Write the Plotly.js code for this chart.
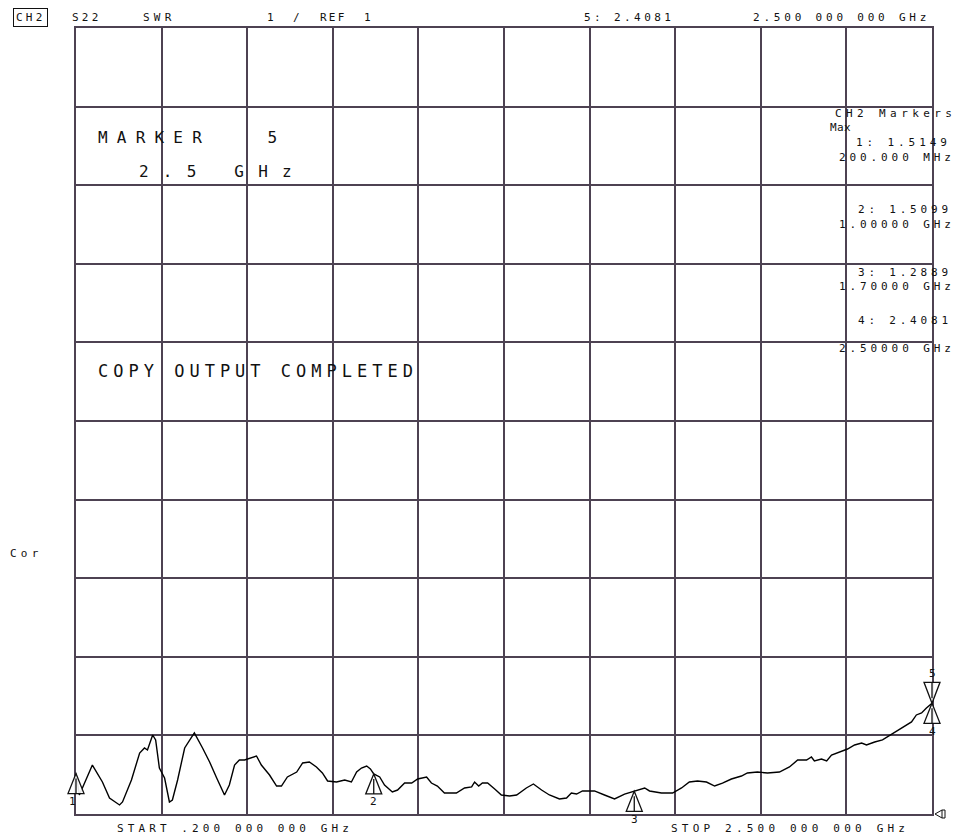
<!DOCTYPE html>
<html>
<head>
<meta charset="utf-8">
<script src="https://cdn.plot.ly/plotly-3.0.1.min.js"></script>
<style>
  html, body { margin: 0; padding: 0; background: #ffffff; }
  #chart { width: 960px; height: 837px; }
</style>
</head>
<body>
<div id="chart"></div>
<script>
// ---- Data (S22 SWR trace, frequency in GHz) ----
const freqGHz = [0.200,0.209,0.244,0.263,0.271,0.290,0.317,0.325,0.349,0.371,
  0.384,0.392,0.406,0.414,0.419,0.424,0.438,0.451,0.459,0.473,
  0.492,0.500,0.518,0.540,0.559,0.578,0.599,0.612,0.626,0.639,
  0.653,0.685,0.698,0.720,0.739,0.752,0.768,0.793,0.809,0.827,
  0.846,0.862,0.876,0.900,0.922,0.940,0.954,0.967,0.981,0.991,
  1.000,1.016,1.029,1.050,1.064,1.083,1.102,1.118,1.142,1.155,
  1.171,1.190,1.222,1.244,1.263,1.271,1.282,1.292,1.306,1.325,
  1.343,1.365,1.384,1.410,1.429,1.451,1.472,1.499,1.518,1.531,
  1.545,1.561,1.593,1.620,1.647,1.674,1.700,1.728,1.741,1.773,
  1.803,1.827,1.848,1.870,1.894,1.916,1.937,1.961,1.988,2.004,
  2.031,2.058,2.090,2.117,2.139,2.163,2.176,2.184,2.203,2.217,
  2.230,2.252,2.273,2.292,2.311,2.324,2.346,2.367,2.380,2.399,
  2.421,2.445,2.458,2.472,2.485,2.500];
const swr = [1.515,1.242,1.623,1.458,1.407,1.204,1.115,1.153,1.433,1.776,
  1.840,1.814,2.005,1.942,1.776,1.585,1.458,1.153,1.178,1.433,
  1.840,1.903,2.031,1.840,1.662,1.458,1.242,1.369,1.623,1.687,
  1.687,1.738,1.623,1.496,1.356,1.356,1.471,1.534,1.649,1.662,
  1.598,1.522,1.420,1.407,1.433,1.407,1.534,1.585,1.611,1.573,
  1.510,1.471,1.369,1.280,1.305,1.394,1.394,1.445,1.471,1.394,
  1.356,1.267,1.267,1.331,1.344,1.407,1.356,1.394,1.394,1.318,
  1.242,1.229,1.242,1.331,1.382,1.305,1.242,1.191,1.204,1.267,
  1.254,1.293,1.293,1.242,1.191,1.254,1.289,1.331,1.293,1.267,
  1.267,1.331,1.407,1.420,1.407,1.356,1.394,1.445,1.483,1.522,
  1.534,1.522,1.534,1.598,1.687,1.687,1.725,1.674,1.700,1.674,
  1.751,1.789,1.827,1.878,1.903,1.878,1.916,1.942,1.980,2.031,
  2.094,2.171,2.260,2.285,2.349,2.408];

// ---- Markers ----
const markerFreq = [0.2, 1.0, 1.7, 2.5, 2.5];
const markerSWR = [1.5149, 1.5099, 1.2889, 2.4081, 2.4081];
const markerLabels = ['1', '2', '3', '4', '5'];
const markerPointsDown = [false, false, false, false, true];

// ---- Axis settings (SWR 1/div, REF 1, 0.2 - 2.5 GHz) ----
const freqStart = 0.2, freqStop = 2.5;
const refValue = 1, scalePerDiv = 1, numDivs = 10;

// ---- Texts ----
const headerTexts = ['CH2', 'S22', 'SWR', '1', '/', 'REF  1', '5: 2.4081', '2.500 000 000 GHz'];
const panelTexts = ['CH2 Markers', 'Max', '1: 1.5149', '200.000 MHz', '2: 1.5099', '1.00000 GHz',
                    '3: 1.2889', '1.70000 GHz', '4: 2.4081', '2.50000 GHz'];
const screenTexts = ['MARKER   5', '2.5 GHz', 'COPY OUTPUT COMPLETED'];
const sideText = 'Cor';
const startText = 'START .200 000 000 GHz';
const stopText = 'STOP 2.500 000 000 GHz';

// ---- Layout helpers ----
const W = 960, H = 837;
const ML = 76, MR = 28, MT = 28, MB = 23;
const PW = W - ML - MR, PH = H - MT - MB;
const FONT = 'DejaVu Sans Mono, Liberation Mono, monospace';
const INK = '#111111';
const GRID = '#4d4252';

function nb(s) { return s.replace(/ /g, '\u00A0'); }
function txt(s, xPx, yPx, size, ls, extra) {
  const a = {
    xref: 'paper', yref: 'paper',
    x: (xPx - ML) / PW, y: (H - MB - yPx) / PH,
    xanchor: 'left', yanchor: 'middle',
    showarrow: false,
    text: '<span style="letter-spacing:' + ls + 'px">' + nb(s) + '</span>',
    font: { family: FONT, size: size, color: INK },
    borderpad: 0
  };
  return Object.assign(a, extra || {});
}

const annotations = [];
// header
const hdrPos = [[13, 3.2], [71, 3.2], [142, 4.2], [266, 0], [292, 0], [319, 2.2], [583, 3.4], [752, 3.8]];
headerTexts.forEach((t, i) => {
  const extra = i === 0 ? { bordercolor: INK, borderwidth: 1, borderpad: 2 } : {};
  annotations.push(txt(t, hdrPos[i][0], 17.5, 11, hdrPos[i][1], extra));
});
// right marker panel
const panelPos = [[834, 113, 4.4], [829, 127, 0.4], [855, 142, 3.9], [838, 157, 3.9],
                  [857, 209, 3.8], [838, 224, 3.9], [857, 272, 3.8], [838, 286, 3.9],
                  [857, 320, 3.8], [838, 348, 3.9]];
panelTexts.forEach((t, i) => annotations.push(txt(t, panelPos[i][0], panelPos[i][1], 11, panelPos[i][2])));
// on-screen messages
annotations.push(txt(screenTexts[0], 97, 137, 16, 9.2));
annotations.push(txt(screenTexts[1], 138, 171, 16, 14.2));
annotations.push(txt(screenTexts[2], 97, 371, 17, 5.0));
annotations.push(txt(sideText, 9, 553, 11, 4.2));
annotations.push(txt(startText, 116, 828, 11, 4.1));
annotations.push(txt(stopText, 670, 828, 11, 4.2));

// marker number labels
markerLabels.forEach((lab, i) => {
  annotations.push({
    xref: 'x', yref: 'y', x: markerFreq[i], y: markerSWR[i],
    showarrow: false, text: lab,
    yshift: markerPointsDown[i] ? 30 : -28,
    xshift: i === 0 ? -4 : 0,
    font: { family: FONT, size: 11, color: INK }
  });
});

// convert data values to paper fractions via the axis ranges (so shapes are not clipped)
function fx(f) { return (f - freqStart) / (freqStop - freqStart); }
function fy(v) { return (v - refValue) / (scalePerDiv * numDivs); }

// marker triangles & reference indicator as pixel-sized shapes
const shapes = [];
markerFreq.forEach((f, i) => {
  const path = markerPointsDown[i]
    ? 'M0,0 L-8,21 L8,21 Z M0,5 L0,21'
    : 'M0,0 L-8,-20 L8,-20 Z M0,-5 L0,-20';
  shapes.push({
    type: 'path', xref: 'paper', yref: 'paper',
    xsizemode: 'pixel', ysizemode: 'pixel',
    xanchor: fx(f), yanchor: fy(markerSWR[i]),
    path: path,
    line: { color: INK, width: 1.3 },
    fillcolor: 'rgba(255,255,255,0.9)'
  });
});
shapes.push({
  type: 'path', xref: 'paper', yref: 'paper',
  xsizemode: 'pixel', ysizemode: 'pixel',
  xanchor: fx(freqStop), yanchor: fy(refValue),
  path: 'M3,0 L10,4 L10,-4 Z M10,4 L13,4 L13,-4 L10,-4',
  line: { color: INK, width: 1 }
});

const trace = {
  x: freqGHz, y: swr,
  type: 'scatter', mode: 'lines',
  line: { color: '#000000', width: 1.4 },
  hoverinfo: 'skip'
};

const layout = {
  width: W, height: H,
  margin: { l: ML, r: MR, t: MT, b: MB, pad: 0 },
  paper_bgcolor: '#ffffff', plot_bgcolor: '#ffffff',
  showlegend: false,
  xaxis: {
    range: [freqStart, freqStop],
    tick0: freqStart, dtick: (freqStop - freqStart) / numDivs,
    showgrid: true, gridcolor: GRID, gridwidth: 2,
    zeroline: false, showticklabels: false, ticks: '',
    showline: true, linecolor: GRID, linewidth: 2, mirror: true
  },
  yaxis: {
    range: [refValue, refValue + scalePerDiv * numDivs],
    tick0: refValue, dtick: scalePerDiv,
    showgrid: true, gridcolor: GRID, gridwidth: 2,
    zeroline: false, showticklabels: false, ticks: '',
    showline: true, linecolor: GRID, linewidth: 2, mirror: true
  },
  annotations: annotations,
  shapes: shapes
};

Plotly.newPlot('chart', [trace], layout, { displayModeBar: false, staticPlot: true });
</script>
</body>
</html>
